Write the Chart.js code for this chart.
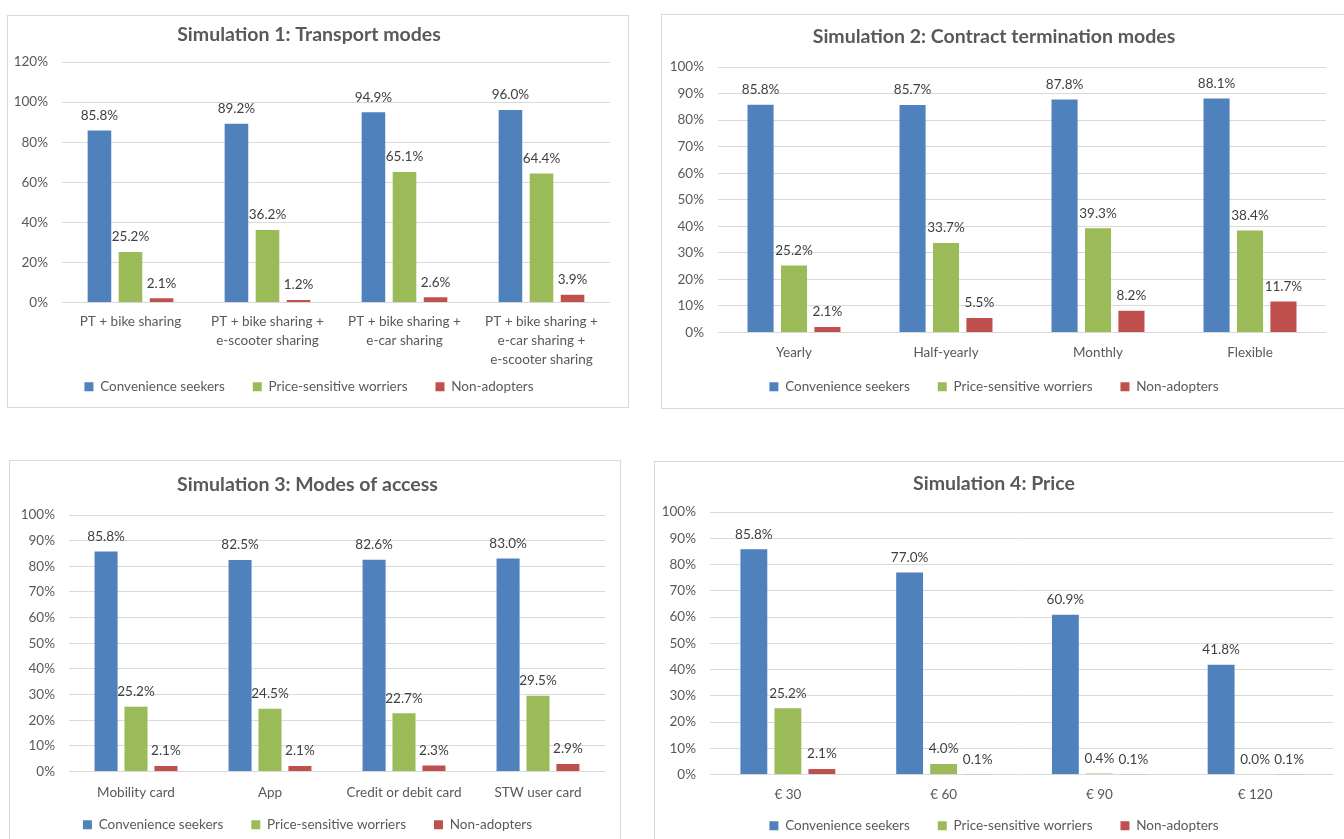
<!DOCTYPE html>
<html>
<head>
<meta charset="utf-8">
<script src="https://cdn.jsdelivr.net/npm/chart.js@4.4.1/dist/chart.umd.min.js"></script>
<style>
  html, body { margin: 0; padding: 0; background: #fff; width: 1344px; height: 839px; overflow: hidden; }
  .box { position: absolute; border: 1px solid #d9d9d9; background: #fff; }
  .box canvas { display: block; }
</style>
</head>
<body>
<div class="box" style="left:7px;top:15px;width:620px;height:391px"><canvas id="c1" width="620" height="391"></canvas></div>
<div class="box" style="left:661px;top:14px;width:690px;height:393px"><canvas id="c2" width="690" height="393"></canvas></div>
<div class="box" style="left:9px;top:460px;width:610px;height:383px"><canvas id="c3" width="610" height="383"></canvas></div>
<div class="box" style="left:654px;top:461px;width:690px;height:383px"><canvas id="c4" width="690" height="383"></canvas></div>

<script>
// series shared by all four simulations
const seriesNames = ["Convenience seekers", "Price-sensitive worriers", "Non-adopters"];
const seriesColors = ["#4F81BD", "#9BBB59", "#C0504D"];

// Simulation 1: Transport modes
const sim1Title = "Simulation 1: Transport modes";
const sim1Labels = [
  ["PT + bike sharing"],
  ["PT + bike sharing +", "e-scooter sharing"],
  ["PT + bike sharing +", "e-car sharing"],
  ["PT + bike sharing +", "e-car sharing +", "e-scooter sharing"]
];
const sim1Convenience = [85.8, 89.2, 94.9, 96.0];
const sim1Price = [25.2, 36.2, 65.1, 64.4];
const sim1Non = [2.1, 1.2, 2.6, 3.9];

// Simulation 2: Contract termination modes
const sim2Title = "Simulation 2: Contract termination modes";
const sim2Labels = ["Yearly", "Half-yearly", "Monthly", "Flexible"];
const sim2Convenience = [85.8, 85.7, 87.8, 88.1];
const sim2Price = [25.2, 33.7, 39.3, 38.4];
const sim2Non = [2.1, 5.5, 8.2, 11.7];

// Simulation 3: Modes of access
const sim3Title = "Simulation 3: Modes of access";
const sim3Labels = ["Mobility card", "App", "Credit or debit card", "STW user card"];
const sim3Convenience = [85.8, 82.5, 82.6, 83.0];
const sim3Price = [25.2, 24.5, 22.7, 29.5];
const sim3Non = [2.1, 2.1, 2.3, 2.9];

// Simulation 4: Price
const sim4Title = "Simulation 4: Price";
const sim4Labels = ["€ 30", "€ 60", "€ 90", "€ 120"];
const sim4Convenience = [85.8, 77.0, 60.9, 41.8];
const sim4Price = [25.2, 4.0, 0.4, 0.0];
const sim4Non = [2.1, 0.1, 0.1, 0.1];

// y axis ranges
const sim1Max = 120, sim1Step = 20;
const otherMax = 100, otherStep = 10;

Chart.defaults.font.family = "Lato, 'Open Sans', sans-serif";
Chart.defaults.color = "#595959";

const textSize = 13.5;
const titleSize = 19.5;
const legendPad = 28;

// percentage above every bar
const valueLabels = {
  id: "valueLabels",
  afterDatasetsDraw(chart) {
    const ctx = chart.ctx;
    ctx.save();
    ctx.font = textSize + "px Lato";
    ctx.fillStyle = "#404040";
    ctx.textAlign = "center";
    ctx.textBaseline = "middle";
    chart.data.datasets.forEach((ds, i) => {
      chart.getDatasetMeta(i).data.forEach((bar, j) => {
        ctx.fillText(ds.data[j].toFixed(1) + "%", bar.x, bar.y - 15);
      });
    });
    ctx.restore();
  }
};

function makeChart(id, frame, title, labels, series, yMax, yStep) {
  const titleH = titleSize * 1.2;
  const titleTop = frame.titleY - titleH / 2;
  const titleBottom = frame.top - titleTop - titleH;
  const padBottom = frame.h - 16.5 - frame.legendY;
  const xHeight = frame.h - padBottom - (23 + legendPad) - frame.bottom;

  return new Chart(document.getElementById(id), {
    type: "bar",
    data: {
      labels: labels,
      datasets: series.map((d, i) => ({
        label: seriesNames[i],
        data: d,
        backgroundColor: seriesColors[i],
        categoryPercentage: frame.catPct,
        barPercentage: frame.barPct
      }))
    },
    options: {
      responsive: false,
      animation: false,
      layout: { padding: { left: 0, right: frame.w - frame.right, top: 0, bottom: padBottom } },
      plugins: {
        title: {
          display: true,
          text: title,
          color: "#595959",
          font: { size: titleSize, weight: "bold" },
          padding: { top: titleTop, bottom: titleBottom }
        },
        legend: {
          position: "bottom",
          labels: { boxWidth: 9, boxHeight: 9, padding: legendPad, color: "#595959", font: { size: textSize } }
        },
        tooltip: { enabled: false }
      },
      scales: {
        x: {
          grid: { display: false, drawTicks: false },
          border: { display: false },
          ticks: { padding: frame.tickPad, color: "#595959", font: { size: textSize, lineHeight: 1.4 }, maxRotation: 0, autoSkip: false },
          afterFit: s => {
            s.height = xHeight;
            // labels may hang below the short axis box, so don't clip them
            s._computeLabelArea = () => undefined;
          }
        },
        y: {
          min: 0,
          max: yMax,
          grid: { color: "#d9d9d9", drawTicks: false },
          border: { display: false },
          ticks: { stepSize: yStep, padding: 14, color: "#595959", font: { size: textSize }, callback: v => v + "%" },
          afterFit: s => { s.width = frame.left; }
        }
      }
    },
    plugins: [valueLabels]
  });
}

makeChart("c1",
  { w: 620, h: 391, left: 54, right: 602, top: 46, bottom: 287, titleY: 19, legendY: 371, tickPad: 10, catPct: 0.68, barPct: 0.76 },
  sim1Title, sim1Labels, [sim1Convenience, sim1Price, sim1Non], sim1Max, sim1Step);

makeChart("c2",
  { w: 690, h: 393, left: 56, right: 664, top: 52, bottom: 318, titleY: 22, legendY: 372, tickPad: 11, catPct: 0.66, barPct: 0.78 },
  sim2Title, sim2Labels, [sim2Convenience, sim2Price, sim2Non], otherMax, otherStep);

makeChart("c3",
  { w: 610, h: 383, left: 59, right: 595, top: 54, bottom: 311, titleY: 24, legendY: 364, tickPad: 12, catPct: 0.67, barPct: 0.77 },
  sim3Title, sim3Labels, [sim3Convenience, sim3Price, sim3Non], otherMax, otherStep);

makeChart("c4",
  { w: 690, h: 383, left: 55, right: 678, top: 50, bottom: 313, titleY: 22, legendY: 364, tickPad: 11, catPct: 0.655, barPct: 0.79 },
  sim4Title, sim4Labels, [sim4Convenience, sim4Price, sim4Non], otherMax, otherStep);
</script>
</body>
</html>
